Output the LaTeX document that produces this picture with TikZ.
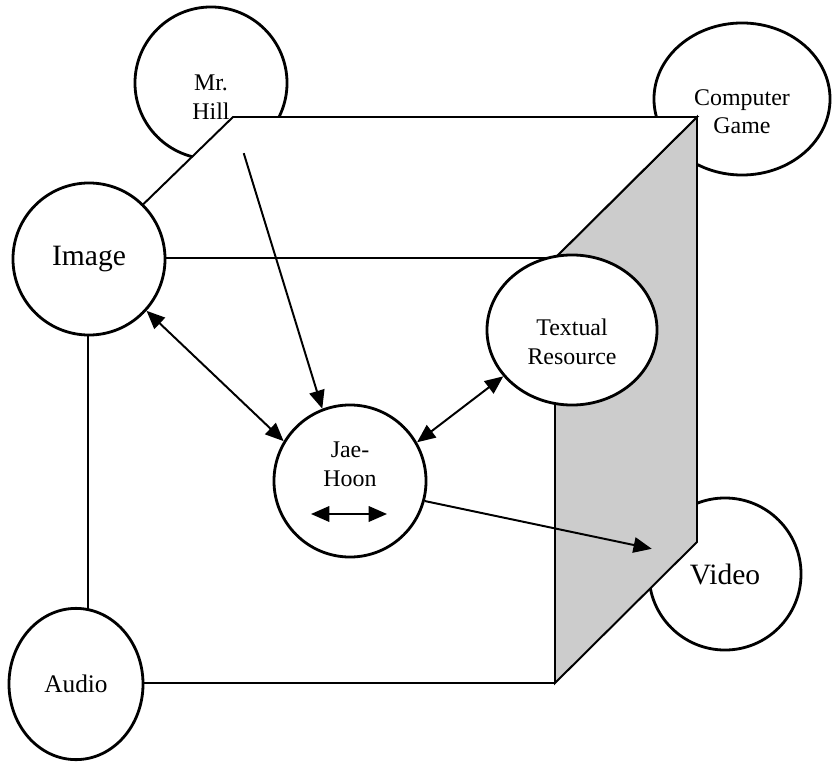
\documentclass[tikz,border=0pt]{standalone}
\usepackage{fontspec}
\setmainfont{Liberation Serif}
\usetikzlibrary{shapes.geometric,arrows.meta}

\begin{document}
\begin{tikzpicture}[x=0.025cm, y=-0.025cm]
\tikzset{bulle/.style={draw, circle, fill=white, line width=2pt, minimum size=3.8cm, inner sep=0pt, align=center}}
\tikzset{ovale/.style={bulle, ellipse}}
\tikzset{petit/.style={font=\fontsize{17}{20.5}\selectfont, align=center}}
\tikzset{grand/.style={font=\fontsize{21}{25}\selectfont}}
\tikzset{fleche/.style={line width=1.4pt, -{Triangle[length=13pt, width=11pt]}}}
\tikzset{dfleche/.style={line width=1.4pt, {Triangle[length=13pt, width=11pt]}-{Triangle[length=13pt, width=11pt]}}}
\useasboundingbox (0,0) rectangle (833,761);
\node[bulle, label={[petit, yshift=-10pt]center:Mr.\\Hill}] (Hill) at (211,83) {};
\node[ovale, minimum width=4.4cm, minimum height=3.8cm, label={[petit, yshift=-9pt]center:Computer\\Game}] (Game) at (742,99) {};
\node[bulle, grand] (Video) at (725,574) {Video};
\coordinate (A) at (88,258);
\coordinate (B) at (555,258);
\coordinate (C) at (555,683);
\coordinate (D) at (88,683);
\coordinate (E) at (233,117);
\coordinate (F) at (697,117);
\coordinate (G) at (697,542);
\filldraw[fill=gray!40, line width=1.4pt] (B) -- (F) -- (G) -- (C) -- cycle;
\filldraw[fill=white, line width=1.4pt] (A) -- (E) -- (F) -- (B) -- cycle;
\draw[line width=1.4pt] (A) -- (D) -- (C);
\node[bulle, grand] (Image) at (89,259) {Image};
\node[ovale, minimum width=3.35cm, minimum height=3.78cm, font=\fontsize{18}{22}\selectfont] (Audio) at (76,684) {Audio};
\node[ovale, minimum width=4.25cm, minimum height=3.75cm, label={[petit, yshift=-8.5pt]center:Textual\\Resource}] (Text) at (572,330) {};
\node[bulle, label={[petit, yshift=12pt]center:Jae-\\Hoon}] (Jae) at (350,481) {};
\coordinate (J1) at (311,514);
\coordinate (J2) at (387,514);
\draw[fleche] (Hill.-65) -- (Jae.111);
\draw[dfleche] (Image.-42) -- (Jae.149);
\draw[dfleche] (Text.-146) -- (Jae.30);
\draw[fleche] (Jae.-15) -- (Video.161);
\draw[dfleche] (J1) -- (J2);
\end{tikzpicture}
\end{document}
